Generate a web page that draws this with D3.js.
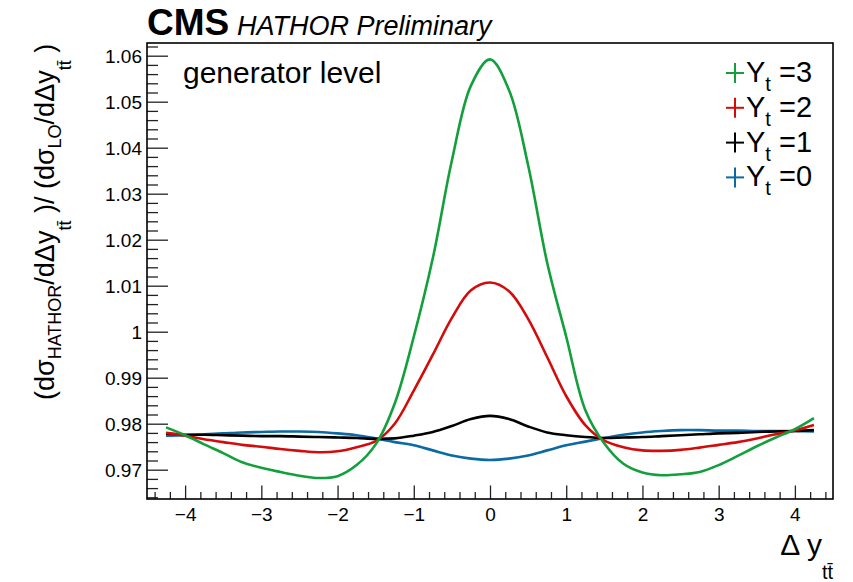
<!DOCTYPE html>
<html>
<head>
<meta charset="utf-8">
<script src="https://cdn.jsdelivr.net/npm/d3@7"></script>
<style>
  body { margin: 0; background: #fff; }
  svg text { font-family: "Liberation Sans", Arial, Helvetica, sans-serif; }
</style>
</head>
<body>
<svg id="chart" width="853" height="582"></svg>
<script>
// x values of the curves (Delta y_tt)
var dyVals = [-4.25, -4, -3.75, -3.5, -3.25, -3, -2.75, -2.5, -2.25, -2, -1.75, -1.5, -1.25, -1, -0.75, -0.5, -0.25, 0,
              0.25, 0.5, 0.75, 1, 1.25, 1.5, 1.75, 2, 2.25, 2.5, 2.75, 3, 3.25, 3.5, 3.75, 4, 4.25];

// ratio HATHOR / LO for each Y_t
var yt3 = [0.9792, 0.9775, 0.9755, 0.9736, 0.9716, 0.9704, 0.9695, 0.9687, 0.9682, 0.9686, 0.9710, 0.9755, 0.9844, 0.9989, 1.0160, 1.0372, 1.0535, 1.0592,
           1.0525, 1.0362, 1.0150, 0.9989, 0.9830, 0.9757, 0.9713, 0.9694, 0.9688, 0.9690, 0.9695, 0.9710, 0.9730, 0.9751, 0.9770, 0.9788, 0.9812];
var yt2 = [0.9780, 0.9774, 0.9766, 0.9760, 0.9754, 0.9750, 0.9745, 0.9741, 0.9738, 0.9740, 0.9749, 0.9762, 0.9800, 0.9872, 0.9950, 1.0030, 1.0090, 1.0107,
           1.0088, 1.0028, 0.9945, 0.9860, 0.9797, 0.9763, 0.9749, 0.9742, 0.9741, 0.9743, 0.9748, 0.9754, 0.9760, 0.9768, 0.9777, 0.9785, 0.9797];
var yt1 = [0.9778, 0.9776, 0.9776, 0.9775, 0.9774, 0.9773, 0.9773, 0.9772, 0.9771, 0.9770, 0.9769, 0.9767, 0.9768, 0.9774, 0.9782, 0.9795, 0.9810, 0.9817,
           0.9810, 0.9794, 0.9781, 0.9775, 0.9771, 0.9769, 0.9770, 0.9771, 0.9773, 0.9775, 0.9777, 0.9779, 0.9780, 0.9782, 0.9783, 0.9784, 0.9786];
var yt0 = [0.9774, 0.9775, 0.9777, 0.9779, 0.9781, 0.9782, 0.9783, 0.9783, 0.9782, 0.9779, 0.9775, 0.9768, 0.9760, 0.9753, 0.9742, 0.9731, 0.9724, 0.9721,
           0.9724, 0.9731, 0.9742, 0.9753, 0.9761, 0.9769, 0.9776, 0.9781, 0.9784, 0.9786, 0.9786, 0.9785, 0.9785, 0.9784, 0.9784, 0.9784, 0.9783];

var seriesNames = ["3", "2", "1", "0"];
var seriesColors = ["#139f3c", "#d30b0b", "#000000", "#0b69a3"];

var xTicks = [-4, -3, -2, -1, 0, 1, 2, 3, 4];
var xMinor = [-4.4, -4.2, -3.8, -3.6, -3.4, -3.2, -2.8, -2.6, -2.4, -2.2, -1.8, -1.6, -1.4, -1.2, -0.8, -0.6, -0.4, -0.2,
              0.2, 0.4, 0.6, 0.8, 1.2, 1.4, 1.6, 1.8, 2.2, 2.4, 2.6, 2.8, 3.2, 3.4, 3.6, 3.8, 4.2, 4.4];
var yTicks = [0.97, 0.98, 0.99, 1, 1.01, 1.02, 1.03, 1.04, 1.05, 1.06];

var svg = d3.select("#chart");

// frame of the pad ("top" is reserved in browsers, so use other names)
var padL = 147, padR = 833, padT = 43, padB = 499;

var x = d3.scaleLinear().domain([-4.5, 4.5]).range([padL, padR]);
var y = d3.scaleLinear().domain([0.96363, 1.06276]).range([padB, padT]);

// y minor ticks every 0.002
var yMinor = [];
for (var v = 964; v <= 1062; v += 2) {
    if (v % 10 != 0) yMinor.push(v / 1000);
}

// minor ticks
svg.append("g")
    .attr("transform", "translate(0," + padB + ")")
    .call(d3.axisBottom(x).tickValues(xMinor).tickSizeInner(-7).tickSizeOuter(0).tickFormat(""))
    .call(function(g) { g.select(".domain").remove(); });
svg.append("g")
    .attr("transform", "translate(" + padL + ",0)")
    .call(d3.axisLeft(y).tickValues(yMinor).tickSizeInner(-11).tickSizeOuter(0).tickFormat(""))
    .call(function(g) { g.select(".domain").remove(); });

// major ticks + labels
var xAxis = svg.append("g")
    .attr("transform", "translate(0," + padB + ")")
    .call(d3.axisBottom(x).tickValues(xTicks).tickSizeInner(-13.5).tickSizeOuter(0).tickPadding(8.5));
xAxis.select(".domain").remove();
xAxis.attr("font-size", null).attr("font-family", null);
xAxis.selectAll("text").style("font-size", "19px").attr("fill", "#000");

var yAxis = svg.append("g")
    .attr("transform", "translate(" + padL + ",0)")
    .call(d3.axisLeft(y).tickValues(yTicks).tickSizeInner(-21).tickSizeOuter(0).tickPadding(5)
        .tickFormat(function(d) { return String(+d.toFixed(2)); }));
yAxis.select(".domain").remove();
yAxis.attr("font-size", null).attr("font-family", null);
yAxis.selectAll("text").style("font-size", "19px").attr("fill", "#000").attr("dy", "0.36em");

svg.selectAll(".tick line").attr("stroke", "#222").attr("stroke-width", 1.3);

// frame
svg.append("rect")
    .attr("x", padL).attr("y", padT)
    .attr("width", padR - padL).attr("height", padB - padT)
    .attr("fill", "none").attr("stroke", "#000").attr("stroke-width", 1.6);

// curves
var line = d3.line()
    .x(function(d) { return x(d[0]); })
    .y(function(d) { return y(d[1]); })
    .curve(d3.curveCatmullRom.alpha(0.5));

var allSeries = [yt3, yt2, yt1, yt0];
[3, 2, 1, 0].forEach(function(i) {
    var pts = dyVals.map(function(d, j) { return [d, allSeries[i][j]]; });
    svg.append("path")
        .attr("d", line(pts))
        .attr("fill", "none")
        .attr("stroke", seriesColors[i])
        .attr("stroke-width", 2.6);
});

// legend
var legX = 735, legY = 73, legStep = 34.8;
seriesNames.forEach(function(name, i) {
    var cy = legY + i * legStep;
    var g = svg.append("g");
    g.append("line").attr("x1", legX - 9).attr("x2", legX + 9).attr("y1", cy).attr("y2", cy)
        .attr("stroke", seriesColors[i]).attr("stroke-width", 2);
    g.append("line").attr("x1", legX).attr("x2", legX).attr("y1", cy - 10).attr("y2", cy + 10)
        .attr("stroke", seriesColors[i]).attr("stroke-width", 2);
    var t = g.append("text").attr("x", legX + 11).attr("y", cy + 9).attr("font-size", 29);
    t.append("tspan").text("Y");
    t.append("tspan").attr("font-size", 20).attr("dy", 9).text("t");
    t.append("tspan").attr("dy", -9).text(" =" + name);
});

// header
svg.append("text").attr("x", 147).attr("y", 35)
    .attr("font-size", 37).attr("font-weight", "bold").text("CMS");
svg.append("text").attr("x", 237).attr("y", 35)
    .attr("font-size", 27).attr("font-style", "italic").text("HATHOR Preliminary");

svg.append("text").attr("x", 183).attr("y", 83)
    .attr("font-size", 30).text("generator level");

// x title
var xt = svg.append("text").attr("x", 833).attr("y", 555).attr("text-anchor", "end").attr("font-size", 30);
xt.append("tspan").text("\u0394 y");
xt.append("tspan").attr("font-size", 20).attr("dy", 24).text("tt\u0304");

// y title
var yt = svg.append("text")
    .attr("transform", "translate(54,400) rotate(-90)")
    .attr("font-size", 27);
yt.append("tspan").text("(d\u03c3");
yt.append("tspan").attr("font-size", 18).attr("dy", 7).text("HATHOR");
yt.append("tspan").attr("dy", -7).text("/d\u0394y");
yt.append("tspan").attr("font-size", 18).attr("dy", 17).text("tt\u0304");
yt.append("tspan").attr("dy", -17).text(" )/ (d\u03c3");
yt.append("tspan").attr("font-size", 18).attr("dy", 7).text("LO");
yt.append("tspan").attr("dy", -7).text("/d\u0394y");
yt.append("tspan").attr("font-size", 18).attr("dy", 17).text("tt\u0304");
yt.append("tspan").attr("dy", -17).text(" )");
</script>
</body>
</html>
